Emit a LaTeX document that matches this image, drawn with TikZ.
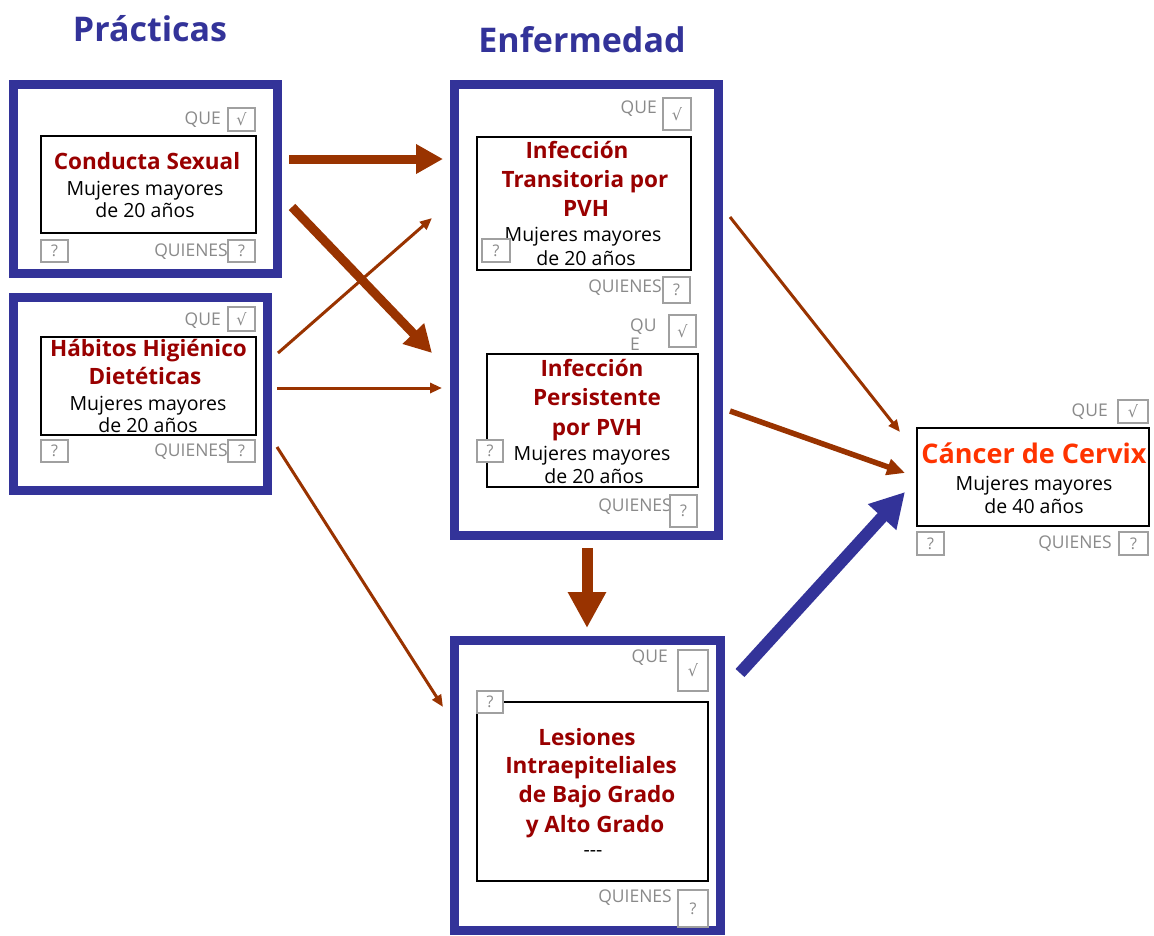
\documentclass[tikz,border=0pt]{standalone}
\usepackage{fontspec}
\setmainfont{Open Sans}
\newfontfamily\symfont{DejaVu Sans}
\usetikzlibrary{arrows.meta}
\definecolor{pblue}{HTML}{333399}
\definecolor{pbrown}{HTML}{993300}
\definecolor{dred}{HTML}{990000}
\definecolor{ored}{HTML}{FF3300}
\definecolor{lgray}{HTML}{8A8A8A}
\definecolor{bgray}{HTML}{A0A0A0}
\newcommand\txtline[5]{\node[#2,anchor=base] (#1) at (#3,#4) {#5};}
\newcommand\sq[6]{\node[sbox,minimum width=#4pt,minimum height=#5pt] (#1) at (#2,#3) {#6};}
\newcommand\chk{{\symfont √}}
\begin{document}
\begin{tikzpicture}[x=1pt,y=-1pt,
  outer/.style={draw=pblue,line width=9pt,inner sep=0pt,outer sep=0pt},
  inbox/.style={draw=black,line width=1.1pt,inner sep=0pt,outer sep=0pt},
  sbox/.style={draw=bgray,line width=1.2pt,fill=white,inner sep=0pt,text=lgray,font=\fontsize{16}{16}\selectfont},
  lbl/.style={text=lgray,inner sep=0pt,font=\fontsize{17.5}{17.5}\selectfont},
  redt/.style={text=dred,inner sep=0pt,font=\fontsize{22.5}{22.5}\selectfont\bfseries},
  blkt/.style={text=black,inner sep=0pt,font=\fontsize{19.5}{19.5}\selectfont},
  cant/.style={text=ored,inner sep=0pt,font=\fontsize{27}{27}\selectfont\bfseries},
  titlet/.style={text=pblue,inner sep=0pt,font=\fontsize{34}{34}\selectfont\bfseries},
  bigarr/.style={draw=pbrown,line width=9pt,-{Triangle[length=27pt,width=28pt]}},
  thinarr/.style={draw=pbrown,line width=3pt,-{Triangle[length=12pt,width=10pt]}},
  midarr/.style={draw=pbrown,line width=5.5pt,-{Triangle[length=18pt,width=16pt]}},
  downarr/.style={draw=pbrown,line width=11pt,-{Triangle[length=36pt,width=36pt]}},
  bluearr/.style={draw=pblue,line width=12pt,-{Triangle[length=34pt,width=36pt]}}
]
\useasboundingbox[fill=white] (0,0) rectangle (1154,935);

% titles
\txtline{tp}{titlet}{150}{41}{Prácticas}
\txtline{te}{titlet}{582}{52}{Enfermedad}

% outer boxes
\node[outer,minimum width=263.5pt,minimum height=188.5pt] (o1) at (145.25,178.75) {};
\node[outer,minimum width=254pt,minimum height=193pt] (o2) at (140.5,393.5) {};
\node[outer,minimum width=263.5pt,minimum height=451pt] (oE) at (586.25,310) {};
\node[outer,minimum width=265.5pt,minimum height=290pt] (oL) at (587.25,785) {};

% inner boxes
\node[inbox,minimum width=215pt,minimum height=97pt] (i1) at (148.5,184.5) {};
\node[inbox,minimum width=215pt,minimum height=98pt] (i2) at (148.5,386) {};
\node[inbox,minimum width=214pt,minimum height=133pt] (iT) at (584,203.5) {};
\node[inbox,minimum width=211pt,minimum height=133pt] (iP) at (592.5,420.5) {};
\node[inbox,minimum width=231pt,minimum height=179pt] (iL) at (592.5,791.5) {};
\node[inbox,minimum width=232pt,minimum height=98pt] (iC) at (1033,477) {};

% texts box 1
\txtline{c1r}{redt}{147}{169}{Conducta Sexual}
\txtline{c1a}{blkt}{145}{195}{Mujeres mayores}
\txtline{c1b}{blkt}{145}{217}{de 20 años}
% box 2
\txtline{c2r}{redt}{148.5}{356}{Hábitos Higiénico}
\txtline{c2s}{redt}{145}{384}{Dietéticas}
\txtline{c2a}{blkt}{148}{410}{Mujeres mayores}
\txtline{c2b}{blkt}{148}{432}{de 20 años}
% transitoria
\txtline{tr1}{redt}{577}{158}{Infección}
\txtline{tr2}{redt}{585}{187}{Transitoria por}
\txtline{tr3}{redt}{586}{216}{PVH}
\txtline{tra}{blkt}{583}{241}{Mujeres mayores}
\txtline{trb}{blkt}{586}{265}{de 20 años}
% persistente
\txtline{pe1}{redt}{592}{376}{Infección}
\txtline{pe2}{redt}{597}{405}{Persistente}
\txtline{pe3}{redt}{597}{435}{por PVH}
\txtline{pea}{blkt}{592}{460}{Mujeres mayores}
\txtline{peb}{blkt}{594}{483}{de 20 años}
% lesiones
\txtline{le1}{redt}{587}{745}{Lesiones}
\txtline{le2}{redt}{591}{773}{Intraepiteliales}
\txtline{le3}{redt}{597}{802}{de Bajo Grado}
\txtline{le4}{redt}{595}{832}{y Alto Grado}
\txtline{lea}{blkt}{593}{856}{-{}-{}-}
% cancer
\txtline{ca1}{cant}{1034}{463}{Cáncer de Cervix}
\txtline{caa}{blkt}{1034}{490}{Mujeres mayores}
\txtline{cab}{blkt}{1034}{513}{de 40 años}

% QUE / QUIENES labels
\node[lbl,anchor=base east] (q1) at (221,124) {QUE};
\node[lbl,anchor=base east] (w1) at (228,256) {QUIENES};
\node[lbl,anchor=base east] (q2) at (221,325) {QUE};
\node[lbl,anchor=base east] (w2) at (228,456) {QUIENES};
\node[lbl,anchor=base east] (qT) at (657,113) {QUE};
\node[lbl,anchor=base east] (wT) at (662,292) {QUIENES};
\node[lbl,anchor=base west] (qP) at (630,331) {QU};
\node[lbl,anchor=base west] (qP2) at (630,350) {E};
\node[lbl,anchor=base east] (wP) at (672,511) {QUIENES};
\node[lbl,anchor=base east] (qL) at (668,662) {QUE};
\node[lbl,anchor=base east] (wL) at (672,902) {QUIENES};
\node[lbl,anchor=base east] (qC) at (1108,416) {QUE};
\node[lbl,anchor=base east] (wC) at (1112,548) {QUIENES};

% small boxes
\sq{s1c}{241.5}{119.5}{27}{23}{\chk}
\sq{s1l}{54.5}{251}{27}{22}{?}
\sq{s1r}{241.5}{251}{27}{22}{?}
\sq{s2c}{241.5}{319}{27}{24}{\chk}
\sq{s2l}{54.5}{451}{27}{22}{?}
\sq{s2r}{241.5}{451}{27}{22}{?}
\sq{sTc}{677}{114}{28}{32}{\chk}
\sq{sTl}{496}{250.5}{28}{23}{?}
\sq{sTr}{676.5}{290}{27}{26}{?}
\sq{sPc}{682.5}{331}{27}{32}{\chk}
\sq{sPl}{490}{451}{26}{22}{?}
\sq{sPr}{683.5}{511}{27}{32}{?}
\sq{sLc}{693}{670.5}{30}{41}{\chk}
\sq{sLl}{490}{702}{26}{22}{?}
\sq{sLr}{693}{908.5}{30}{37}{?}
\sq{sCc}{1133}{411.5}{30}{23}{\chk}
\sq{sCl}{930.5}{543.5}{27}{23}{?}
\sq{sCr}{1133.5}{543.5}{29}{23}{?}

% arrow end points
\coordinate (a1s) at (289,159);  \coordinate (a1e) at (443,159);
\coordinate (a2s) at (292,207);  \coordinate (a2e) at (432,353);
\coordinate (a3s) at (278,353);  \coordinate (a3e) at (432,218);
\coordinate (a4s) at (277,388);  \coordinate (a4e) at (442,388);
\coordinate (a5s) at (277,447);  \coordinate (a5e) at (443,707);
\coordinate (a6s) at (587,548);  \coordinate (a6e) at (587,628);
\coordinate (a7s) at (730,217);  \coordinate (a7e) at (900,432);
\coordinate (a8s) at (730,411);  \coordinate (a8e) at (905,473);
\coordinate (a9s) at (740,673);  \coordinate (a9e) at (905,492);

\draw[bigarr] (a1s) -- (a1e);
\draw[thinarr] (a3s) -- (a3e);
\draw[bigarr] (a2s) -- (a2e);
\draw[thinarr] (a4s) -- (a4e);
\draw[thinarr] (a5s) -- (a5e);
\draw[downarr] (a6s) -- (a6e);
\draw[thinarr] (a7s) -- (a7e);
\draw[midarr] (a8s) -- (a8e);
\draw[bluearr] (a9s) -- (a9e);
\end{tikzpicture}
\end{document}
